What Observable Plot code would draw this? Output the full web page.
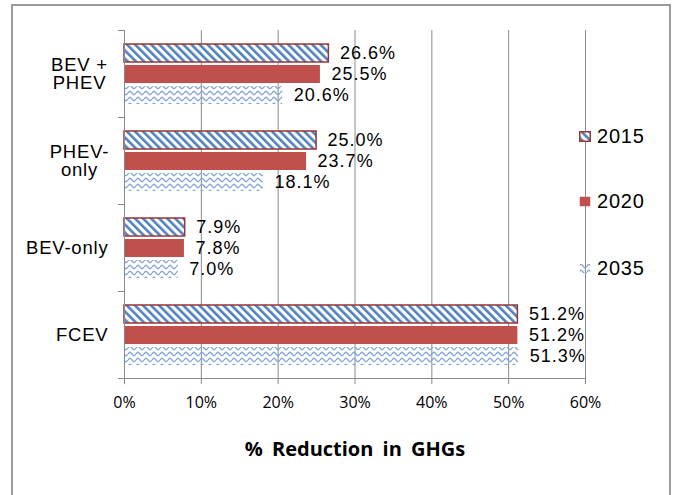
<!DOCTYPE html>
<html><head><meta charset="utf-8">
<script src="https://cdn.jsdelivr.net/npm/d3@7"></script>
<script src="https://cdn.jsdelivr.net/npm/@observablehq/plot@0.6"></script>
<style>
html,body{margin:0;padding:0;background:#fff;overflow:hidden}
#wrap{position:relative;width:678px;height:495px;overflow:hidden;font-family:'Liberation Sans',Arial,sans-serif;background:#fff}
#border{position:absolute;left:11px;top:4px;width:660px;height:540px;border:2px solid #9b9b9b;box-sizing:border-box}
#chart{position:absolute;left:0;top:0}
.lg{position:absolute;left:579px;height:24px;display:flex;align-items:center;font-size:20px;letter-spacing:0.8px;color:#000;white-space:nowrap}
.lg svg{margin-right:6px;display:block}
#chart g[aria-label="text"] text{letter-spacing:1px;font-family:'Liberation Sans',Arial,sans-serif}
#chart g[aria-label="fy-axis tick label"] text{letter-spacing:0.8px;font-family:'Liberation Sans',Arial,sans-serif}
#chart g[aria-label="x-axis tick label"] text{font-family:'Open Sans',sans-serif}
#chart g[aria-label="x-axis label"] text{font-family:'Open Sans',sans-serif;font-weight:bold;font-size:20px;word-spacing:4px}
</style>
</head><body>
<svg width="0" height="0" style="position:absolute">
  <defs>
    <pattern id="p2015" patternUnits="userSpaceOnUse" width="5.7" height="5.7" patternTransform="rotate(-45)">
      <rect width="5.7" height="5.7" fill="#ffffff"/>
      <rect width="2.6" height="5.7" fill="#4F81BD"/>
    </pattern>
    <pattern id="p2035" patternUnits="userSpaceOnUse" width="8" height="6">
      <path d="M0,3 C2,0.6 2,0.6 4,3 S6,5.4 8,3" fill="none" stroke="#7FA3D7" stroke-width="1.3"/>
    </pattern>
  </defs>
</svg>
<div id="wrap">
  <div id="border"></div>
  <div id="chart"></div>
  <div id="legend"></div>
</div>
<script>
const categories = ["BEV + PHEV", "PHEV-only", "BEV-only", "FCEV"];
const categoryLabels = ["BEV +\nPHEV", "PHEV-\nonly", "BEV-only", "FCEV"];
const years = ["2015", "2020", "2035"];
const values2015 = [26.6, 25.0, 7.9, 51.2];
const values2020 = [25.5, 23.7, 7.8, 51.2];
const values2035 = [20.6, 18.1, 7.0, 51.3];
const xTicks = [0, 10, 20, 30, 40, 50, 60];
const xLabel = "% Reduction in GHGs";

const seriesValues = {"2015": values2015, "2020": values2020, "2035": values2035};
const fills = {"2015": "url(#p2015)", "2020": "#C0504D", "2035": "url(#p2035)"};
const strokes = {"2015": "#953735", "2020": "none", "2035": "none"};
const rows = years.flatMap(yr => categories.map((c, i) => ({category: c, year: yr, value: seriesValues[yr][i]})));

const W = 678, H = 495, mT = 30, mB = 117, mL = 124, mR = 93;
const facetH = (H - mT - mB) / categories.length;
const grey = "#8a8a8a";
const labelOf = c => categoryLabels[categories.indexOf(c)];
const multiLine = categories.filter(c => labelOf(c).includes("\n"));
const singleLine = categories.filter(c => !labelOf(c).includes("\n"));

const chart = Plot.plot({
  width: W, height: H,
  marginTop: mT, marginBottom: mB, marginLeft: mL, marginRight: mR,
  style: {fontFamily: "'Liberation Sans', Arial, sans-serif", fontSize: "17px", color: "#000", background: "transparent", overflow: "visible"},
  x: {domain: [0, 60]},
  y: {domain: years, paddingInner: 0.16, paddingOuter: 0.62, axis: null},
  fy: {domain: categories, padding: 0},
  color: {type: "identity"},
  marks: [
    Plot.ruleX(xTicks.slice(1), {stroke: grey, strokeWidth: 1}),
    Plot.barX(rows, {x: "value", y: "year", fy: "category", fill: d => fills[d.year], stroke: d => strokes[d.year], strokeWidth: 1.5}),
    Plot.ruleX([0], {stroke: grey, strokeWidth: 1}),
    Plot.text(rows, {x: "value", y: "year", fy: "category", text: d => d.value.toFixed(1) + "%", textAnchor: "start", dx: 11, fill: "#000", fontSize: 18}),
    Plot.frame({anchor: "bottom", facetAnchor: "bottom", stroke: grey, insetLeft: -6}),
    Plot.axisX({ticks: xTicks, tickFormat: d => d + "%", tickSize: 6, tickPadding: 12, stroke: grey, fill: "#000", fontSize: 16,
      label: xLabel, labelAnchor: "center", labelOffset: 77, labelArrow: "none"}),
    Plot.axisFy({anchor: "left", ticks: singleLine, tickSize: 0, tickPadding: 16, tickFormat: labelOf, fontSize: 18.5, fill: "#000", label: null}),
    Plot.axisFy({anchor: "left", ticks: multiLine, tickSize: 0, tickPadding: 45, textAnchor: "middle", tickFormat: labelOf, fontSize: 18.5, fill: "#000", label: null}),
    Plot.axisFy({anchor: "left", text: null, tickSize: 6, dy: -facetH / 2, stroke: grey, label: null}),
    Plot.axisFy({anchor: "left", text: null, tickSize: 6, dy: facetH / 2, stroke: grey, label: null})
  ]
});
document.getElementById("chart").appendChild(chart);

// legend
const legendY = {"2015": 136, "2020": 201, "2035": 268};
const legend = document.getElementById("legend");
years.forEach(yr => {
  const item = document.createElement("div");
  item.className = "lg";
  item.style.top = (legendY[yr] - 12) + "px";
  const sw = strokes[yr] === "none" ? "" : `stroke="${strokes[yr]}" stroke-width="1.5"`;
  item.innerHTML = `<svg width="12" height="11"><rect x="0.75" y="0.75" width="10.5" height="9.5" fill="${fills[yr]}" ${sw}/></svg><span>${yr}</span>`;
  legend.appendChild(item);
});
</script>
</body></html>
